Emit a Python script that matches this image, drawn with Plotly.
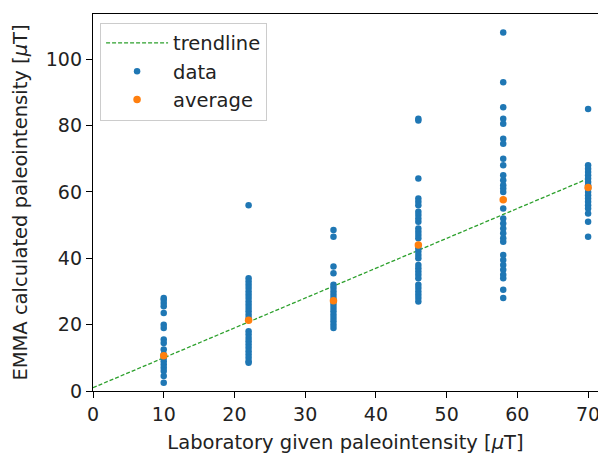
import plotly.graph_objects as go

# Data
x_levels = [10, 22, 34, 46, 58, 70]
vals_10 = [28, 27.5, 26.5, 25.5, 23.5, 20, 19, 15.5, 14.5, 12.5, 11, 10, 9, 8, 7, 6, 4.5, 2.5]
vals_22 = [56, 34, 33, 32, 31, 30, 29, 28, 27, 26, 25, 24, 23, 22, 18, 17, 16, 15, 14, 13, 12, 11, 10, 9, 8.5]
vals_34 = [48.5, 46.5, 37.5, 35.5, 32, 31, 30, 29, 28, 27, 26, 25, 24, 23, 22, 21, 20, 19]
vals_46 = [82, 81.5, 64, 58, 57, 56, 54, 53, 52, 51, 49, 48, 47, 46, 43, 42, 41, 40, 38, 37, 36, 35, 34,
           32, 31, 30, 29, 28, 27]
vals_58 = [108, 93, 85.5, 82, 80.5, 76, 74.5, 70, 68, 65, 63.5, 62, 61, 60, 55, 52, 50.5, 49, 47.5, 46,
           45, 41, 39.5, 38, 36.5, 35, 34, 30.5, 28]
vals_70 = [85, 68, 67, 66, 65, 64, 63, 62, 61, 60, 59, 58, 57, 56, 55, 53.5, 51, 46.5]
averages = [10.6, 21.3, 27.2, 44.0, 57.6, 61.3]
trend_x = [0, 70]
trend_y = [1.0, 64.0]

x_ticks = [0, 10, 20, 30, 40, 50, 60, 70]
y_ticks = [0, 20, 40, 60, 80, 100]

all_vals = [vals_10, vals_22, vals_34, vals_46, vals_58, vals_70]
data_x, data_y = [], []
for xl, vs in zip(x_levels, all_vals):
    data_x += [xl] * len(vs)
    data_y += vs

font = "DejaVu Sans, sans-serif"
fig = go.Figure()
fig.add_trace(go.Scatter(x=trend_x, y=trend_y, mode="lines", name="trendline",
                         line=dict(color="#2ca02c", width=1.3, dash="4px,2px")))
fig.add_trace(go.Scatter(x=data_x, y=data_y, mode="markers", name="data",
                         marker=dict(color="#1f77b4", size=6.5)))
fig.add_trace(go.Scatter(x=x_levels, y=averages, mode="markers", name="average",
                         marker=dict(color="#ff7f0e", size=7.5)))

axis_common = dict(showgrid=False, zeroline=False, showline=True, linecolor="black", linewidth=1.3,
                   mirror=True, ticks="outside", ticklen=6, tickwidth=1.3, tickcolor="black",
                   tickfont=dict(family=font, size=19, color="#222"))
fig.update_layout(
    width=598, height=452,
    margin=dict(l=85, r=8, t=6, b=69),
    paper_bgcolor="white", plot_bgcolor="white",
    font=dict(family=font, color="#222"),
    xaxis=dict(range=[0, 71.4], tickvals=x_ticks,
               title=dict(text="Laboratory given paleointensity [<i>μ</i>T]", font=dict(size=19.5), standoff=11),
               **axis_common),
    yaxis=dict(range=[0, 113.6], tickvals=y_ticks,
               title=dict(text="EMMA calculated paleointensity [<i>μ</i>T]", font=dict(size=19.5), standoff=12),
               **axis_common),
    legend=dict(x=0.014, y=0.977, xanchor="left", yanchor="top", bgcolor="rgba(255,255,255,0.8)",
                bordercolor="#cccccc", borderwidth=1, font=dict(size=19.5, family=font),
                itemwidth=62),
    showlegend=True,
)
fig.write_html("out.html")
